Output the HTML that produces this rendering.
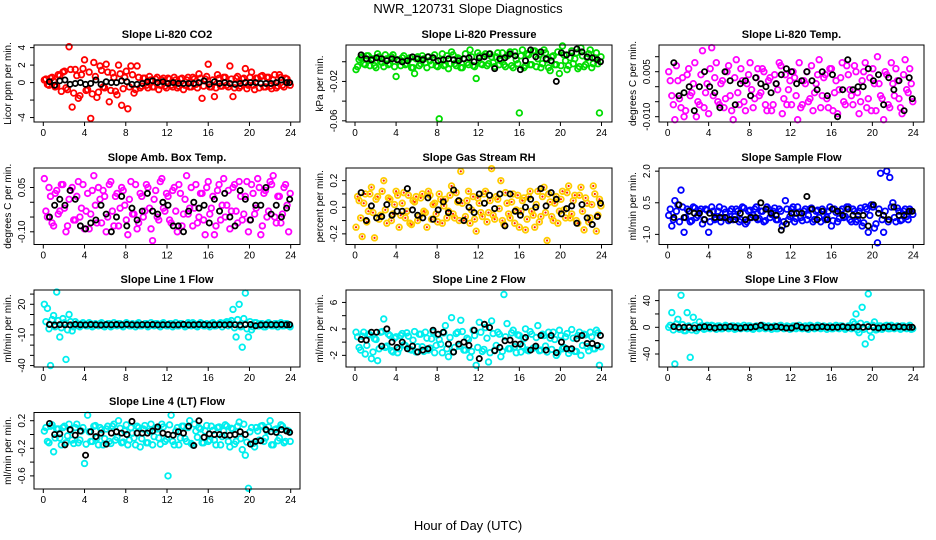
<!DOCTYPE html>
<html><head><meta charset="utf-8"><style>
html,body{margin:0;padding:0;background:#fff;}
svg{display:block;font-family:"Liberation Sans",sans-serif;}
</style></head><body>
<svg id="chart" width="936" height="540" viewBox="0 0 936 540">
<text x="468" y="13" text-anchor="middle" font-size="13">NWR_120731  Slope Diagnostics</text>
<text x="468" y="530" text-anchor="middle" font-size="13">Hour of Day (UTC)</text>
</svg>
<script>
const hoursC=[0.1,0.4,0.7,1.0,1.3,1.6,1.9,2.2,2.5,2.8,3.1,3.4,3.7,4.0,4.3,4.6,4.9,5.2,5.5,5.8,6.1,6.4,6.7,7.0,7.3,7.6,7.9,8.2,8.5,8.8,9.1,9.4,9.7,10.0,10.3,10.6,10.9,11.2,11.5,11.8,12.1,12.4,12.7,13.0,13.3,13.6,13.9,14.2,14.5,14.8,15.1,15.4,15.7,16.0,16.3,16.6,16.9,17.2,17.5,17.8,18.1,18.4,18.7,19.0,19.3,19.6,19.9,20.2,20.5,20.8,21.1,21.4,21.7,22.0,22.3,22.6,22.9,23.2,23.5,23.8];
const hoursD=[0.25,0.55,0.85,1.15,1.45,1.75,2.05,2.35,2.65,2.95,3.25,3.55,3.85,4.15,4.45,4.75,5.05,5.35,5.65,5.95,6.25,6.55,6.85,7.15,7.45,7.75,8.05,8.35,8.65,8.95,9.25,9.55,9.85,10.15,10.45,10.75,11.05,11.35,11.65,11.95,12.25,12.55,12.85,13.15,13.45,13.75,14.05,14.35,14.65,14.95,15.25,15.55,15.85,16.15,16.45,16.75,17.05,17.35,17.65,17.95,18.25,18.55,18.85,19.15,19.45,19.75,20.05,20.35,20.65,20.95,21.25,21.55,21.85,22.15,22.45,22.75,23.05,23.35,23.65,23.95];
const hoursB=[0.6,1.1,1.6,2.1,2.6,3.1,3.6,4.1,4.6,5.1,5.6,6.1,6.6,7.1,7.6,8.1,8.6,9.1,9.6,10.1,10.6,11.1,11.6,12.1,12.6,13.1,13.6,14.1,14.6,15.1,15.6,16.1,16.6,17.1,17.6,18.1,18.6,19.1,19.6,20.1,20.6,21.1,21.6,22.1,22.6,23.1,23.6,23.9];
const xTicks=[0,4,8,12,16,20,24];

const co2C=[0.3,-0.2,0.5,0.2,-0.4,0.8,1.2,-0.6,4.1,-2.8,1.5,-1.8,0.9,2.6,-0.8,-4.1,2.3,-1.7,1.9,-0.5,2.1,-2.2,1.1,-1.0,2.0,-2.6,0.6,-3.0,1.9,-1.2,1.9,-0.6,0.5,-0.3,0.7,-0.5,0.4,-0.8,0.3,-0.4,0.5,-0.3,0.6,-0.6,0.4,-0.8,0.3,-0.5,0.6,-0.2,1.0,-1.8,0.4,2.1,-0.5,-1.6,0.9,-0.4,0.6,-0.3,1.9,-1.6,0.5,-0.6,0.4,1.6,-0.3,1.2,-0.8,0.5,0.7,-0.5,0.6,-0.4,0.3,-0.6,0.9,-0.3,0.5,0.0];
const co2D=[0.4,-0.3,0.6,-0.5,0.9,-1.0,1.3,-0.8,1.5,-1.2,0.8,-1.5,1.6,-0.9,1.2,-1.3,0.7,-1.1,1.4,-0.6,1.2,-0.9,0.6,-1.4,1.0,-0.7,1.3,-0.5,0.9,-0.8,0.6,-0.4,0.5,-0.6,0.3,-0.5,0.6,-0.3,0.5,-0.6,0.4,-0.5,0.3,-0.4,0.5,-0.3,0.6,-0.5,0.4,-0.6,0.5,-0.4,0.7,-0.5,0.3,-0.6,0.5,-0.4,0.6,-0.5,0.4,-0.6,0.7,-0.4,0.5,-0.7,0.6,-0.3,0.5,-0.6,0.8,-0.5,0.6,-0.7,0.9,-0.4,0.6,-0.5,0.4,-0.3];
const co2B=[0.1,-0.3,0.2,0.3,-0.2,-0.1,0.0,-0.2,-0.1,0.3,-0.2,0.1,0.0,0.0,0.2,0.1,-0.2,-0.2,-0.1,0.1,0.2,0.0,0.1,-0.1,0.0,-0.1,-0.1,-0.1,-0.1,0.0,0.2,-0.2,0.1,-0.1,0.0,-0.1,-0.2,-0.1,0.0,0.0,0.0,-0.1,-0.1,-0.1,0.0,0.3,0.0,0.0];
const pressC=[-8,2,5,-3,6,1,-4,8,0,-5,3,-2,7,-15,1,4,-3,2,-6,-12,5,-2,3,-6,1,4,-4,-58,8,-3,-7,10,-2,4,-6,3,-1,12,-4,-17,6,-3,8,-2,5,-5,9,1,-3,6,10,-6,2,-52,12,-4,7,-3,11,3,-6,12,2,-9,6,-3,-12,16,1,-4,11,3,-7,14,-5,4,12,-2,9,-52];
const pressD=[-5,4,-2,6,-4,3,-6,5,-1,7,-3,5,-5,2,-4,6,-2,4,-6,3,-4,6,-1,5,-3,7,-5,2,-4,6,-2,7,-4,3,-6,8,-3,5,-5,9,-2,6,-4,8,-1,5,-3,9,-5,7,-4,10,-2,6,-6,8,-3,11,-5,7,-2,9,-6,5,-3,10,-4,7,-8,4,-2,9,-5,6,-3,8,-6,4,-2,5];
const pressB=[7,3,2,4,3,1,3,2,0,1,5,3,2,5,4,1,2,3,2,1,3,4,0,4,5,8,-7,3,4,8,6,-8,1,12,5,10,3,1,-20,9,7,9,13,10,5,4,2,0];
const tempC=[5,-3,-11,2,-7,-10,4,-3,1,-10,-6,12,-2,-9,13,3,-5,1,-7,5,-3,-11,9,-6,2,-8,4,-1,-4,6,-2,5,-8,3,-6,1,8,-9,4,-1,-6,3,-11,-7,2,5,-4,-8,1,9,-3,4,-7,6,-2,-9,3,-5,7,-1,-6,5,-9,2,8,-4,-8,1,10,-3,-11,4,-7,1,6,-4,-9,9,-2,1];
const tempD=[2,-6,7,-4,3,-8,6,-2,8,-5,4,-7,1,6,-3,8,-6,2,-4,7,-8,3,-2,6,-5,1,8,-7,3,-3,6,-6,2,-8,4,-1,7,-4,-6,2,5,-3,8,-6,1,-5,7,-2,4,-7,3,-4,6,-8,2,-1,8,-6,4,-3,7,-2,-5,5,-7,3,6,-8,1,-4,5,-6,8,-3,2,-7,4,-1,6,-5];
const tempB=[8,-3,-2,0,-8,0,5,0,-2,-7,5,2,-6,1,2,-3,3,1,0,-2,1,4,6,5,1,2,5,2,-1,5,-3,4,-10,-1,9,-1,0,0,6,2,4,-6,3,-1,2,-8,3,-4];
const ambC=[8,-5,2,-8,4,-3,6,-10,1,5,-6,7,-2,-9,3,-4,9,-7,1,4,-10,6,-3,2,-8,5,-1,-11,7,-4,-9,3,-5,6,-2,-13,4,-6,8,-3,2,-7,5,-10,3,-4,9,-2,-8,6,-5,3,-11,7,-2,-11,4,-6,8,-1,-9,5,-3,7,-6,2,-10,6,-4,8,-11,3,-5,7,9,-7,2,-4,6,-10];
const ambD=[-3,5,-7,3,-4,6,-2,-8,4,-6,2,-5,6,-3,-9,4,-1,5,-7,2,-5,7,-8,3,-2,4,-6,1,-4,6,-7,2,-3,5,-9,1,-5,7,-2,3,-6,4,-3,6,-8,1,-4,5,-2,-7,3,-6,5,-4,2,-8,6,-1,-5,4,-3,6,-7,2,-4,7,-6,3,-2,5,-8,4,-3,6,-5,2,-7,5,-1,3];
const ambB=[-5,-1,1,-1,4,1,-8,-9,-7,-6,-1,-4,-10,-5,2,-8,-2,-6,-3,3,-3,-4,0,-1,-8,-8,-10,-3,0,-2,-1,-7,1,-3,3,-5,-8,4,1,-6,-1,-1,5,-4,-1,-5,-2,1];
const rhC=[-15,5,-22,10,-3,15,-23,8,-6,20,-12,6,-5,12,-15,3,-8,9,-13,4,-10,7,-3,-15,9,2,-5,10,-12,6,-3,16,-8,4,27,-10,5,-12,8,-18,3,-7,12,-4,29,-9,6,20,-13,3,-8,10,-2,-15,5,-17,8,-3,-15,12,-7,15,-25,4,-10,8,-3,12,-8,16,-5,9,-12,15,-17,3,-8,16,-18,6];
const rhD=[8,-8,3,-11,10,-4,6,-9,12,-2,7,-10,2,9,-6,11,-3,-12,5,8,-7,10,-4,12,-9,3,-11,6,1,-8,9,-5,11,-10,3,-7,12,-2,-9,7,-4,10,-11,5,-6,8,-1,-10,11,-5,4,-12,9,-3,7,-9,12,-6,2,-11,8,-4,10,-7,3,-12,6,-2,11,-8,5,-10,9,-3,7,-11,2,10,-6,1];
const rhB=[11,-10,1,-8,-7,2,-6,-3,-3,14,-2,-6,-8,7,-9,-2,4,-4,13,5,-10,0,-4,10,3,9,-1,10,-14,10,-3,-6,0,6,0,14,1,11,6,-5,-1,1,-12,2,-8,-13,-7,3];
const sampleC=[-0.1,-0.6,0.6,0.4,1.1,-0.9,0.2,-0.4,0.3,-0.2,0.1,-0.5,0.2,-0.9,0.3,-0.3,0.1,-0.4,0.2,-0.2,0.1,-0.3,0.2,-0.4,0.3,-0.5,0.1,-0.2,0.2,-0.3,0.1,-0.4,0.3,-0.2,0.1,-0.3,0.2,-0.6,0.6,-0.3,0.2,-0.4,0.3,-0.2,0.1,-0.3,0.2,-0.4,0.1,-0.2,0.2,-0.3,0.1,-0.6,0.2,-0.4,0.1,-0.2,0.3,-0.3,0.2,-0.4,0.1,-0.6,0.3,-0.9,0.4,-0.7,-1.4,1.9,-0.9,2.0,1.7,0.5,-0.4,0.1,-0.3,0.2,-0.3,0.1];
const sampleD=[0.2,-0.3,0.1,-0.4,0.3,-0.2,0.1,-0.35,0.25,-0.1,0.2,-0.3,0.15,-0.4,0.1,-0.25,0.3,-0.2,0.05,-0.35,0.2,-0.15,0.1,-0.3,0.25,-0.4,0.15,-0.1,0.3,-0.25,0.1,-0.35,0.2,-0.05,0.25,-0.3,0.1,-0.4,0.2,-0.15,0.3,-0.25,0.05,-0.35,0.2,-0.1,0.25,-0.3,0.15,-0.4,0.1,-0.2,0.3,-0.35,0.05,-0.25,0.2,-0.15,0.3,-0.4,0.1,-0.3,0.25,-0.45,0.2,-0.1,0.3,-0.5,0.2,-0.3,0.1,-0.4,0.3,-0.2,0.25,-0.35,0.1,-0.15,0.2,-0.05];
const sampleB=[-0.2,0.4,-0.2,0.1,0.0,0.0,-0.3,0.0,-0.2,-0.2,-0.2,-0.3,-0.3,0.0,-0.3,-0.2,-0.2,0.5,0.2,0.0,-0.1,-0.8,-0.5,0.0,0.0,0.0,0.8,0.2,-0.3,0.1,-0.3,0.2,0.1,-0.1,0.2,-0.1,-0.1,-0.1,-0.6,0.4,0.0,-0.1,-0.3,0.3,-0.1,-0.1,0.1,0.1];
const line1C=[20,16,-40,9,32,-12,6,-34,10,-6,3,-1,1,0,-1,1,-1,0,1,-1,0,1,-1,0,1,-1,0,1,-1,0,1,-1,0,1,-1,0,1,-1,1,0,-1,1,0,-1,1,0,-1,1,2,-1,0,1,-1,0,1,-1,0,2,1,3,2,15,-12,20,-22,31,-12,-5,2,-1,1,-2,1,0,-1,1,0,-1,1,-1];
const line1D=[3,-4,5,-2,4,-3,2,-5,3,-2,1,-2,2,-1,2,-2,1,-1,2,-2,1,-2,2,-1,1,-2,2,-1,1,-2,2,-1,1,-2,2,-1,1,-2,2,-1,1,-2,2,-1,1,-2,2,-1,1,-2,2,-1,1,-2,2,-1,1,-2,2,-1,4,-3,5,-2,6,-4,3,-2,2,-1,1,-2,2,-1,1,-2,2,-1,1,-2];
const line1B=[0.2,-0.3,0.1,0,-0.2,0.3,0,-0.1,0.2,0,-0.3,0.1,0,0.2,-0.1,0.3,0,-0.2,0.1,0,0.2,-0.1,0,0.1,-0.2,0,0.3,-0.1,0,0.2,0.1,-0.2,0,0.1,-0.1,0.2,0,-0.3,0.1,0.2,-1,-0.2,0,0.1,-0.1,0.2,0,0.1];
const line2C=[1.5,-0.8,0.9,-1.8,1.2,-2.5,0.5,-2.8,1.5,3.5,-0.6,1.0,-1.5,0.8,-1.0,1.3,-0.5,0.9,-1.2,1.6,-0.7,1.2,-1.4,0.6,-0.9,1.5,-0.5,0.4,-1.6,2.5,-2.2,3.7,-0.8,1.5,3.3,-1.2,0.6,-2.3,1.8,-3.5,3.0,-1.4,2.2,-3.0,3.2,-1.2,1.5,-2.2,7.2,2.8,-1.0,1.8,-1.6,1.0,-0.6,2.0,-1.3,1.2,-0.8,2.5,-1.2,1.0,-1.5,0.6,1.5,-2.0,1.8,-1.0,0.8,-1.7,1.9,-1.4,1.0,-2.0,1.2,-0.7,1.5,-1.0,1.8,-3.5];
const line2D=[0.8,-1.2,1.5,-0.5,1.1,-1.5,0.4,-1.0,1.6,-0.8,1.2,-1.3,0.6,-1.6,1.0,-0.4,1.4,-1.1,0.3,-1.5,1.2,-0.7,1.5,-1.2,0.5,-1.6,1.1,-0.3,1.4,-1.0,0.7,-1.5,1.3,-0.6,1.6,-1.2,0.4,-1.4,1.0,-0.8,1.5,-1.1,0.6,-1.6,1.3,-0.5,1.2,-1.4,0.8,-1.0,1.4,-0.7,1.1,-1.5,0.5,-1.2,1.6,-0.9,0.7,-1.3,1.2,-0.6,1.5,-1.1,0.4,-1.6,1.0,-0.8,1.3,-1.2,0.6,-1.4,1.5,-0.5,1.1,-1.3,0.8,-1.0,1.4,-0.7];
const line2B=[0.4,0.3,1.5,1.5,-0.6,2.0,0.0,-0.8,0.0,-1.0,-0.6,-1.5,-1.2,-1.0,1.8,1.2,1.5,-0.3,-1.5,-0.3,0.0,-0.5,1.8,-2.5,2.7,2.2,-1.3,-0.8,0.2,0.3,-0.3,-0.3,0.7,-1.2,-0.6,1.0,-1.2,1.0,-1.6,0.0,-1.0,-1.0,0.5,1.0,-0.2,-0.2,-0.5,1.0];
const line3C=[0,22,-55,12,48,-5,22,-45,15,-5,8,2,-2,1,3,-1,2,-2,0,1,-1,2,-2,1,0,-1,2,-2,1,0,-1,2,-1,0,1,-2,2,0,-1,1,-2,2,0,-1,1,-2,3,0,-1,2,-1,1,0,-2,1,-1,2,0,-1,1,8,20,-8,30,-25,50,-15,8,-3,2,-1,3,-2,1,0,-1,2,-1,1,-3];
const line3D=[3,-4,5,-3,4,-5,2,-4,3,-2,2,-3,3,-2,2,-3,2,-2,3,-2,2,-3,2,-2,3,-2,2,-3,2,-2,3,-2,2,-3,2,-2,3,-2,2,-3,2,-2,3,-2,2,-3,2,-2,3,-2,2,-3,2,-2,3,-2,2,-3,2,-2,5,-4,6,-3,4,-5,3,-4,2,-3,2,-2,3,-2,2,-3,2,-2,3,-2];
const line3B=[1,0,0,0,-1,0,1,0,-1,0,0,1,0,-1,0,0,1,3,0,0,1,0,-1,-1,2,0,-1,0,0,1,0,0,0,1,0,0,1,0,1,0,-1,0,1,0,1,0,0,0];
const line4C=[0.05,-0.1,0.12,-0.25,0.08,-0.05,0.1,-0.12,0.15,-0.08,0.1,-0.12,0.05,-0.42,0.28,-0.1,0.12,-0.05,0.1,-0.15,0.08,-0.1,0.12,-0.08,0.2,-0.12,0.05,-0.15,0.1,-0.05,0.12,-0.18,0.08,-0.12,0.05,-0.15,0.1,-0.05,0.15,-0.1,-0.6,0.28,-0.15,0.1,-0.05,0.12,-0.1,0.2,-0.15,0.05,0.1,-0.12,0.05,-0.1,0.12,-0.08,0.1,-0.15,0.05,0.12,-0.18,0.08,-0.1,0.18,-0.22,-0.3,-0.78,0.1,-0.18,0.05,0.12,-0.1,0.05,0.2,-0.15,0.08,-0.05,0.12,-0.1,0.05];
const line4D=[0.1,-0.12,0.14,-0.05,0.08,-0.15,0.12,-0.02,0.06,-0.13,0.15,-0.08,0.1,-0.14,0.04,-0.1,0.13,-0.15,0.07,-0.06,0.12,-0.13,0.15,-0.04,0.09,-0.11,0.14,-0.08,0.02,-0.15,0.1,-0.06,0.13,-0.12,0.15,-0.03,0.08,-0.14,0.11,-0.07,0.14,-0.1,0.05,-0.15,0.12,-0.06,0.1,-0.13,0.15,-0.04,0.08,-0.12,0.13,-0.08,0.06,-0.15,0.11,-0.03,0.14,-0.1,0.09,-0.14,0.12,-0.06,0.15,-0.11,0.04,-0.13,0.1,-0.08,0.13,-0.05,0.11,-0.15,0.07,-0.09,0.14,-0.12,0.06,-0.1];
const line4B=[0.16,0.0,0.01,-0.15,0.07,-0.01,0.05,-0.3,0.04,-0.03,0.02,-0.14,0.02,0.04,0.02,0.0,0.19,0.02,0.02,0.02,0.05,0.11,0.02,0.0,-0.01,0.04,0.02,0.12,-0.16,0.2,-0.04,0.01,0.0,0.0,-0.01,-0.01,0.0,0.04,0.0,-0.14,-0.1,-0.09,0.07,0.04,0.03,0.07,0.05,0.03];

const cols=[{l:34,r:300,x0:43.3,x24:290.7},{l:346,r:612,x0:355,x24:601.5},{l:659,r:924,x0:667.7,x24:913.3}];
const rows=[{t:45,b:122,ttl:38},{t:168,b:244.5,ttl:161},{t:290,b:367,ttl:283},{t:412.5,b:489,ttl:405}];
const panels=[
 {key:'co2',title:'Slope Li-820 CO2',yt:'Licor ppm per min.',c:0,r:0,unit:1,dom:[-4.51,4.3],ticks:[4,2,0,-2,-4],labels:['4','2','0','','-4'],cData:co2C,dData:co2D,bData:co2B,col:'#ff0000'},
 {key:'pressure',title:'Slope Li-820 Pressure',yt:'kPa per min.',c:1,r:0,unit:0.001,dom:[-0.0612,0.017],ticks:[0,-0.02,-0.04,-0.06],labels:['','-0.02','','-0.06'],cData:pressC,dData:pressD,bData:pressB,col:'#00dd00'},
 {key:'li820-temp',title:'Slope Li-820 Temp.',yt:'degrees C per min.',c:2,r:0,unit:0.001,dom:[-0.01177,0.0139],ticks:[0.01,0.005,0,-0.005,-0.01],labels:['','0.005','','','-0.010'],cData:tempC,dData:tempD,bData:tempB,col:'#ff00ff'},
 {key:'amb-temp',title:'Slope Amb. Box Temp.',yt:'degrees C per min.',c:0,r:1,unit:0.01,dom:[-0.143,0.116],ticks:[0.05,0,-0.05,-0.1],labels:['0.05','','','-0.10'],cData:ambC,dData:ambD,bData:ambB,col:'#ff00ff'},
 {key:'gas-rh',title:'Slope Gas Stream RH',yt:'percent per min.',c:1,r:1,unit:0.01,dom:[-0.28,0.295],ticks:[0.2,0.1,0,-0.1,-0.2],labels:['0.2','','0.0','','-0.2'],cData:rhC,dData:rhD,bData:rhB,col:'#ffcc00',dot:'#ff2200'},
 {key:'sample-flow',title:'Slope Sample Flow',yt:'ml/min per min.',c:2,r:1,unit:1,dom:[-1.48,2.15],ticks:[2,0.5,-1],labels:['2.0','0.5','-1.0'],cData:sampleC,dData:sampleD,bData:sampleB,col:'#0000ff'},
 {key:'line1-flow',title:'Slope Line 1 Flow',yt:'ml/min per min.',c:0,r:2,unit:1,dom:[-41.4,34],ticks:[30,20,10,0,-10,-20,-30,-40],labels:['','20','','','-10','','','-40'],cData:line1C,dData:line1D,bData:line1B,col:'#00eeee'},
 {key:'line2-flow',title:'Slope Line 2 Flow',yt:'ml/min per min.',c:1,r:2,unit:1,dom:[-3.76,7.88],ticks:[6,4,2,0,-2],labels:['6','','2','','-2'],cData:line2C,dData:line2D,bData:line2B,col:'#00eeee'},
 {key:'line3-flow',title:'Slope Line 3 Flow',yt:'ml/min per min.',c:2,r:2,unit:1,dom:[-59.5,55.9],ticks:[40,20,0,-20,-40],labels:['40','','0','','-40'],cData:line3C,dData:line3D,bData:line3B,col:'#00eeee'},
 {key:'line4-flow',title:'Slope Line 4 (LT) Flow',yt:'ml/min per min.',c:0,r:3,unit:1,dom:[-0.79,0.319],ticks:[0.2,0,-0.2,-0.4,-0.6],labels:['0.2','','-0.2','','-0.6'],cData:line4C,dData:line4D,bData:line4B,col:'#00eeee'}
];
const NS='http://www.w3.org/2000/svg';
const svg=document.getElementById('chart');
function mk(tag,attrs,parent){const e=document.createElementNS(NS,tag);for(const k in attrs)e.setAttribute(k,attrs[k]);parent.appendChild(e);return e;}
panels.forEach(p=>{
 const C=cols[p.c],R=rows[p.r];
 const xs=h=>C.x0+h*(C.x24-C.x0)/24;
 const ys=v=>R.t+(p.dom[1]-v)/(p.dom[1]-p.dom[0])*(R.b-R.t);
 const g=mk('g',{},svg);
 
 
 const tt=mk('text',{x:(C.l+C.r)/2,y:R.ttl,'text-anchor':'middle','font-size':'11','font-weight':'bold'},g);
 tt.textContent=p.title;
 
 
 const yt=mk('text',{transform:'translate('+(C.l-23)+','+((R.t+R.b)/2)+') rotate(-90)','text-anchor':'middle','font-size':'10'},g);
 yt.textContent=p.yt;
 
 
 const pts=mk('g',{},g);
 
 
 function drawColored(arr,hrs){
  arr.forEach((v,i)=>{
   const cx=xs(hrs[i]),cy=ys(v*p.unit);
   const c=mk('circle',{cx:cx,cy:cy,r:2.8,fill:'none',stroke:p.col,'stroke-width':1.8},pts);
   
   
   if(p.dot){const d=mk('circle',{cx:cx,cy:cy,r:1.1,fill:p.dot},pts);
    
    }
  });
 }
 drawColored(p.dData,hoursD);
 drawColored(p.cData,hoursC);
 p.bData.forEach((v,i)=>{
  const c=mk('circle',{cx:xs(hoursB[i]),cy:ys(v*p.unit),r:2.6,fill:'none',stroke:'#000','stroke-width':1.8},pts);
  
  
 });
 const box=mk('rect',{x:C.l,y:R.t,width:C.r-C.l,height:R.b-R.t,fill:'none',stroke:'#000','stroke-width':1},g);
 
 
 xTicks.forEach(h=>{
  const x=xs(h);
  const tk=mk('line',{x1:x,x2:x,y1:R.b,y2:R.b+4,stroke:'#000'},g);
  
  
  const lb=mk('text',{x:x,y:R.b+14,'text-anchor':'middle','font-size':'10'},g);
  lb.textContent=h;
  
  
 });
 p.ticks.forEach((v,i)=>{
  const y=ys(v);
  const tk=mk('line',{x1:C.l-4,x2:C.l,y1:y,y2:y,stroke:'#000'},g);
  
  
  if(p.labels[i]){
   const lb=mk('text',{transform:'translate('+(C.l-9)+','+y+') rotate(-90)','text-anchor':'middle','font-size':'10'},g);
   lb.textContent=p.labels[i];
   
   
  }
 });
});
</script>
</body></html>
